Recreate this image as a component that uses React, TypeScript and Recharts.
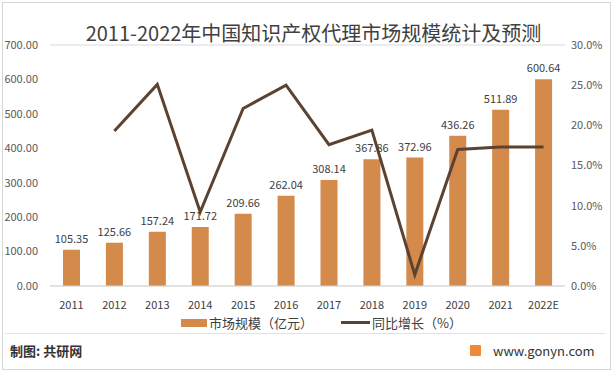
import {
  ComposedChart,
  Bar,
  Line,
  XAxis,
  YAxis,
  CartesianGrid,
  LabelList,
} from 'recharts';

const YEARS = ['2011', '2012', '2013', '2014', '2015', '2016', '2017', '2018', '2019', '2020', '2021', '2022E'];
const MARKET = [105.35, 125.66, 157.24, 171.72, 209.66, 262.04, 308.14, 367.86, 372.96, 436.26, 511.89, 600.64];
const GROWTH = [null, 19.3, 25.1, 9.2, 22.1, 25.0, 17.6, 19.4, 1.4, 17.0, 17.3, 17.3];

const LEFT_TICKS = [0, 100, 200, 300, 400, 500, 600, 700];
const RIGHT_TICKS = [0, 5, 10, 15, 20, 25, 30];

const BAR = '#D38A4B';
const LINE = '#5C4331';
const FONT = '"Noto Sans CJK SC", "Noto Sans", sans-serif';

const data = YEARS.map((y, i) => ({ year: y, market: MARKET[i], growth: GROWTH[i] }));

const tick = { fontSize: 11, fill: '#595959', fontFamily: FONT };

export default function App() {
  return (
    <div
      style={{
        position: 'absolute',
        left: 0,
        top: 0,
        width: 613,
        height: 372,
        background: '#fff',
        fontFamily: FONT,
      }}
    >
      <div
        style={{
          position: 'absolute',
          left: 2,
          top: 2,
          width: 607,
          height: 366,
          border: '1px solid #d6d6d6',
        }}
      />
      <div
        style={{
          position: 'absolute',
          left: 0,
          top: 19,
          width: 613,
          textAlign: 'center',
          fontSize: 20,
          color: '#404040',
          lineHeight: '28px',
          paddingLeft: 14,
          boxSizing: 'border-box',
        }}
      >
        2011-2022年中国知识产权代理市场规模统计及预测
      </div>
      <div style={{ position: 'absolute', left: 0, top: 0 }}>
        <ComposedChart
          width={613}
          height={335}
          data={data}
          margin={{ top: 45, right: 0, left: 0, bottom: 29 }}
          barCategoryGap="30%"
        >
          <CartesianGrid vertical={false} stroke="#d9d9d9" />
          <XAxis
            dataKey="year"
            height={20}
            tick={{ ...tick, fill: '#404040' }}
            tickLine={false}
            tickSize={0}
            tickMargin={15}
            axisLine={{ stroke: '#d9d9d9' }}
          />
          <YAxis
            yAxisId="l"
            width={50}
            domain={[0, 700]}
            ticks={LEFT_TICKS}
            tick={tick}
            tickLine={false}
            tickSize={0}
            tickMargin={12}
            axisLine={false}
            tickFormatter={(v: number) => v.toFixed(2)}
          />
          <YAxis
            yAxisId="r"
            orientation="right"
            width={48}
            domain={[0, 30]}
            ticks={RIGHT_TICKS}
            tick={tick}
            tickLine={false}
            tickSize={0}
            tickMargin={6}
            axisLine={false}
            tickFormatter={(v: number) => `${v.toFixed(1)}%`}
          />
          <Bar yAxisId="l" dataKey="market" fill={BAR} barSize={17} isAnimationActive={false}>
            <LabelList
              dataKey="market"
              position="top"
              offset={7}
              style={{ fontSize: 11, fill: '#404040', fontFamily: FONT }}
              formatter={(v: number) => v.toFixed(2)}
            />
          </Bar>
          <Line
            yAxisId="r"
            dataKey="growth"
            stroke={LINE}
            strokeWidth={3}
            dot={false}
            activeDot={false}
            strokeLinejoin="miter"
            isAnimationActive={false}
          />
        </ComposedChart>
      </div>
      <div
        style={{
          position: 'absolute',
          left: 181,
          top: 313,
          display: 'flex',
          alignItems: 'center',
          fontSize: 13,
          color: '#404040',
          whiteSpace: 'nowrap',
        }}
      >
        <span style={{ width: 26, height: 8, background: BAR, display: 'inline-block', marginRight: 2 }} />
        <span>市场规模（亿元）</span>
        <span style={{ width: 29, height: 3, background: LINE, display: 'inline-block', marginLeft: 28, marginRight: 2 }} />
        <span>同比增长（%）</span>
      </div>
      <div
        style={{
          position: 'absolute',
          left: 5,
          top: 333,
          width: 600,
          height: 1,
          background: '#e2e2e2',
        }}
      />
      <div
        style={{
          position: 'absolute',
          left: 10,
          top: 341,
          fontSize: 13,
          fontWeight: 'bold',
          color: '#333',
        }}
      >
        制图: 共研网
      </div>
      <div
        style={{
          position: 'absolute',
          left: 470,
          top: 341,
          display: 'flex',
          alignItems: 'center',
          fontSize: 13,
          color: '#333',
        }}
      >
        <span
          style={{
            width: 11,
            height: 11,
            background: '#F08A3A',
            display: 'inline-block',
            marginRight: 12,
            borderRadius: 1,
          }}
        />
        <span>www.gonyn.com</span>
      </div>
    </div>
  );
}
